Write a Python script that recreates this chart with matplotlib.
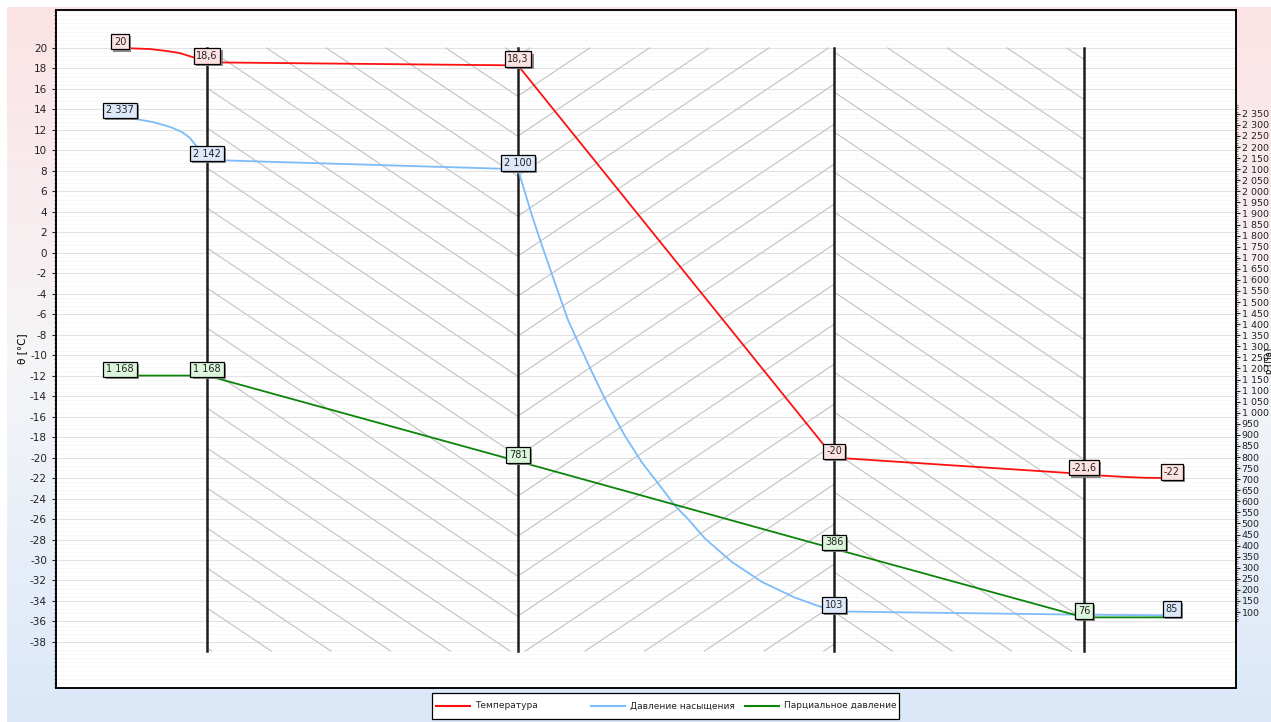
import numpy as np
import matplotlib
matplotlib.use("Agg")
import matplotlib.pyplot as plt
import matplotlib.patheffects as pe
from matplotlib.ticker import FixedLocator
from matplotlib.colors import LinearSegmentedColormap
from matplotlib.patches import Rectangle
from matplotlib.lines import Line2D

plt.rcParams["axes.unicode_minus"] = False

# ---- данные (x - условная координата по толщине конструкции) ----
x_bounds = [87, 398, 714, 964]          # границы слоёв

x_temp = [0, 30, 47, 60, 73, 80, 87, 398, 714, 964, 980, 1003, 1025, 1052]
temp = [20, 19.9, 19.7, 19.5, 19.1, 18.9, 18.6, 18.3, -20, -21.6, -21.75, -21.88, -21.97, -22.0]

x_sat = [0, 15, 33, 50, 62, 70, 77, 87, 398, 412, 422, 435, 448, 462, 475, 488, 505,
         522, 542, 555, 568, 585, 612, 642, 675, 703, 714, 964, 1052]
p_sat = [2337, 2327, 2313, 2291, 2268, 2241, 2200, 2142, 2100, 1890, 1755, 1586, 1419,
         1280, 1155, 1035, 895, 775, 658, 580, 520, 432, 326, 236, 165, 120, 103, 88, 85]

x_part = [0, 87, 398, 714, 964, 1052]
p_part = [1168, 1168, 781, 386, 76, 76]

# подписи значений
temp_lbl_x = [0, 87, 398, 714, 964, 1052]
temp_lbl = [20, 18.6, 18.3, -20, -21.6, -22]
sat_lbl_x = [0, 87, 398, 714, 1052]
sat_lbl = [2337, 2142, 2100, 103, 85]
part_lbl_x = [0, 87, 398, 714, 964]
part_lbl = [1168, 1168, 781, 386, 76]

t_ticks = list(range(-38, 22, 2))
p_ticks = list(range(100, 2400, 50))

series_names = ["Температура", "Давление насыщения", "Парциальное давление"]

RED = "#ff1010"
BLUE = "#7cbcf8"
GREEN = "#0a850a"
W, H = 1271, 722


def fmt_num(v):
    if float(v).is_integer():
        return f"{int(v):,}".replace(",", " ")
    return str(v).replace(".", ",")


fig = plt.figure(figsize=(12.71, 7.22), dpi=100)
fig.patch.set_facecolor("white")

# фон - градиент розовый -> белый -> голубой
bg = fig.add_axes([7 / W, 0, 1 - 7 / W, 1 - 7 / H], zorder=-10)
cmap = LinearSegmentedColormap.from_list(
    "bg", [(0, "#fce3e5"), (0.5, "#f5f5f7"), (1, "#dbe8f9")])
bg.imshow(np.linspace(0, 1, 256).reshape(-1, 1), aspect="auto", cmap=cmap,
          extent=[0, 1, 0, 1])
bg.set_axis_off()

ax = fig.add_axes([56 / W, 1 - 688 / H, 1180 / W, 678 / H])
ax.set_facecolor("white")
ax.set_xlim(-64, 1116)
ax.set_ylim(-42.5, 23.71)
ax2 = ax.twinx()
ax2.set_ylim(-243, 2819)

# штриховка слоёв
step = 40 / 10.24
m = 0.67 / 10.24
t_top, t_bot = 20, -38.9


def hatch(xa, xb, sign, c0):
    for c in np.arange(c0 - 40 * step, c0 + 40 * step, step):
        if sign < 0:
            x1 = max(xa, xa + (c - t_top) / m)
            x2 = min(xb, xa + (c - t_bot) / m)
        else:
            x1 = max(xa, xa + (t_bot - c) / m)
            x2 = min(xb, xa + (t_top - c) / m)
        if x2 > x1:
            ax.plot([x1, x2], [c + sign * m * (x1 - xa), c + sign * m * (x2 - xa)],
                    color="#c2c2c2", lw=0.8, zorder=2)


hatch(x_bounds[0], x_bounds[1], -1, 20)
hatch(x_bounds[1], x_bounds[2], 1, 20 - 8 / 10.24)
hatch(x_bounds[2], x_bounds[3], -1, 20 - 4 / 10.24)

# сетка
ax.set_yticks(t_ticks)
ax.yaxis.set_minor_locator(FixedLocator(np.arange(-42.4, 23.7, 0.4)))
ax.grid(True, which="major", axis="y", color="#e2e2e2", lw=0.8)
ax.grid(True, which="minor", axis="y", color="#f6f6f6", lw=0.5)
ax.set_xticks([])

# границы слоёв
for xb in x_bounds:
    ax.plot([xb, xb], [t_top, t_bot], color="#1e1e1e", lw=1.8, zorder=3)

# кривые
ax.plot(x_temp, temp, color=RED, lw=1.3, zorder=4)
ax2.plot(x_sat, p_sat, color=BLUE, lw=1.3, zorder=4)
ax2.plot(x_part, p_part, color=GREEN, lw=1.3, zorder=4)

shadow = [pe.SimplePatchShadow(offset=(1.5, -1.5), shadow_rgbFace="#808080", alpha=0.9),
          pe.Normal()]


def put_labels(axis, xs, vals, face):
    for x, v in zip(xs, vals):
        t = axis.annotate(fmt_num(v), (x, v), xytext=(0, 4.5), textcoords="offset points",
                          ha="center", va="center", fontsize=7, color="#222222", zorder=8,
                          bbox=dict(boxstyle="square,pad=0.28", fc=face, ec="black", lw=0.9))
        t.get_bbox_patch().set_path_effects(shadow)


put_labels(ax, temp_lbl_x, temp_lbl, "#fde2e2")
put_labels(ax2, sat_lbl_x, sat_lbl, "#dde8fb")
put_labels(ax2, part_lbl_x, part_lbl, "#dcf6dc")

# оси
ax.tick_params(axis="y", which="major", labelsize=7.5, length=3, colors="#222222")
ax.tick_params(axis="y", which="minor", length=1.5, colors="#555555")
ax.set_ylabel("θ [°C]", fontsize=7.5, labelpad=2)

ax2.set_yticks(p_ticks)
ax2.set_yticklabels([fmt_num(v) for v in p_ticks])
ax2.yaxis.set_minor_locator(FixedLocator(np.arange(60, 2400, 10)))
ax2.tick_params(axis="y", which="major", labelsize=6.8, length=3, pad=1, colors="#222222")
ax2.tick_params(axis="y", which="minor", length=1.5, colors="#555555")
for a in (ax, ax2):
    for s in a.spines.values():
        s.set_color("black")
        s.set_linewidth(1.1)
fig.text(1270 / W, 0.5, "p [Па]", rotation=90, fontsize=6, ha="center", va="center")

# легенда с колонками равной ширины
fig.patches.append(Rectangle((432 / W, 1 - 719 / H), 467 / W, 26 / H,
                             transform=fig.transFigure, fc="white", ec="black",
                             lw=0.9, zorder=5))
for i, (name, col) in enumerate(zip(series_names, [RED, BLUE, GREEN])):
    x0 = 436 + i * 154.5
    fig.lines.append(Line2D([x0 / W, (x0 + 34) / W], [1 - 706 / H] * 2,
                            transform=fig.transFigure, color=col, lw=1.5, zorder=6))
    fig.text((x0 + 39) / W, 1 - 706 / H, name, fontsize=6.5, ha="left", va="center",
             color="#222222", zorder=6)

fig.savefig("out.png", dpi=100)
